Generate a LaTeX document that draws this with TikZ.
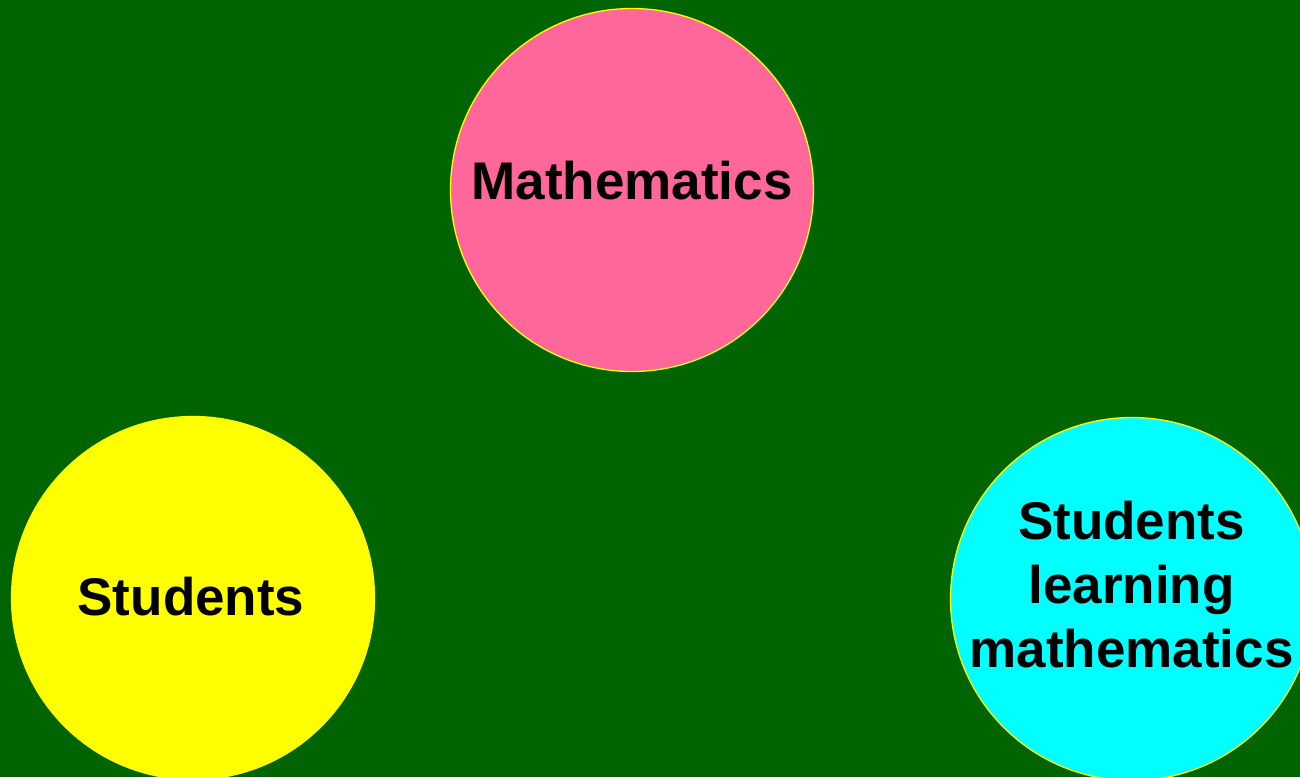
\documentclass[tikz,border=0pt]{standalone}
\usepackage{fontspec}
\setmainfont{Liberation Sans}
\definecolor{bggreen}{RGB}{0,100,0}
\definecolor{mathpink}{RGB}{255,102,153}
\definecolor{slcyan}{RGB}{0,255,255}
\definecolor{styellow}{RGB}{255,255,0}
\tikzset{
  bubble/.style={circle, draw=styellow, line width=1.3pt, minimum size=363pt, inner sep=0pt},
  lbl/.style={anchor=base, inner sep=0pt, font=\fontsize{53}{64}\selectfont\bfseries, text=black}
}
\begin{document}
\begin{tikzpicture}[x=1pt,y=-1pt]
\fill[bggreen] (0,0) rectangle (1300,777);
\useasboundingbox (0,0) rectangle (1300,777);
\begin{scope}
\clip (0,0) rectangle (1300,777);
\node[bubble, fill=mathpink] (math) at (632,190) {};
\node[bubble, fill=styellow] (stud) at (193,598) {};
\node[bubble, fill=slcyan] (slm) at (1132,599) {};
\end{scope}
\node[lbl] (mathtxt) at (632,199) {Mathematics};
\node[lbl] (studtxt) at (191,615) {Students};
\node[lbl] (slm1) at (1131.5,539.5) {Students};
\node[lbl] (slm2) at (1131.5,603.3) {learning};
\node[lbl] (slm3) at (1131.5,667) {mathematics};
\end{tikzpicture}
\end{document}
